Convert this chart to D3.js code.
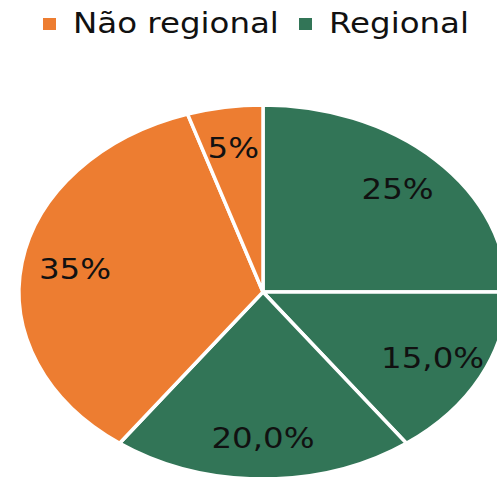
<!DOCTYPE html>
<html>
<head>
<meta charset="utf-8">
<script src="https://cdn.jsdelivr.net/npm/d3@7"></script>
<style>
  body { margin: 0; background: #fff; }
  svg text { font-family: "DejaVu Sans", Verdana, sans-serif; }
</style>
</head>
<body>
<svg id="chart" width="497" height="477"></svg>
<script>
// data
const sliceValues = [25, 15, 20, 35, 5];
const sliceLabels = ['25%', '15,0%', '20,0%', '35%', '5%'];
const sliceSeries = ['Regional', 'Regional', 'Regional', 'Não regional', 'Não regional'];
const legendItems = ['Não regional', 'Regional'];

const colors = d3.scaleOrdinal()
    .domain(legendItems)
    .range(['#ED7D31', '#327557']);

const cx = 263, cy = 292;
const ry = 187, rx = 244;
const sx = rx / ry;
const textStretch = 1.12;

const svg = d3.select('#chart');

const pie = d3.pie().sort(null).value(d => d)(sliceValues);
const arc = d3.arc().innerRadius(0).outerRadius(ry);
const labelArc = d3.arc().innerRadius(ry * 0.78).outerRadius(ry * 0.78);

const pieGroup = svg.append('g')
    .attr('transform', 'translate(' + cx + ',' + cy + ') scale(' + sx + ',1)');

pieGroup.selectAll('path')
    .data(pie)
  .enter().append('path')
    .attr('d', arc)
    .attr('fill', (d, i) => colors(sliceSeries[i]))
    .attr('stroke', '#fff')
    .attr('stroke-width', 3.5)
    .attr('vector-effect', 'non-scaling-stroke');

// labels, stretched a bit sideways like the reference
svg.append('g')
    .selectAll('g')
    .data(pie)
  .enter().append('g')
    .attr('transform', d => {
        const c = labelArc.centroid(d);
        return 'translate(' + (cx + c[0] * sx) + ',' + (cy + c[1] + 10) + ') scale(' + textStretch + ',1)';
    })
  .append('text')
    .attr('text-anchor', 'middle')
    .attr('font-size', 29)
    .attr('fill', '#111')
    .text((d, i) => sliceLabels[i]);

// legend
const legendX = d3.scalePoint().domain(legendItems).range([43, 299]);
const item = svg.append('g')
    .selectAll('g')
    .data(legendItems)
  .enter().append('g')
    .attr('transform', d => 'translate(' + legendX(d) + ',0)');
item.append('rect')
    .attr('x', 0).attr('y', 18)
    .attr('width', 13).attr('height', 12)
    .attr('fill', d => colors(d));
item.append('g')
    .attr('transform', 'translate(30,33) scale(' + textStretch + ',1)')
  .append('text')
    .attr('font-size', 29)
    .attr('fill', '#111')
    .text(d => d);
</script>
</body>
</html>
